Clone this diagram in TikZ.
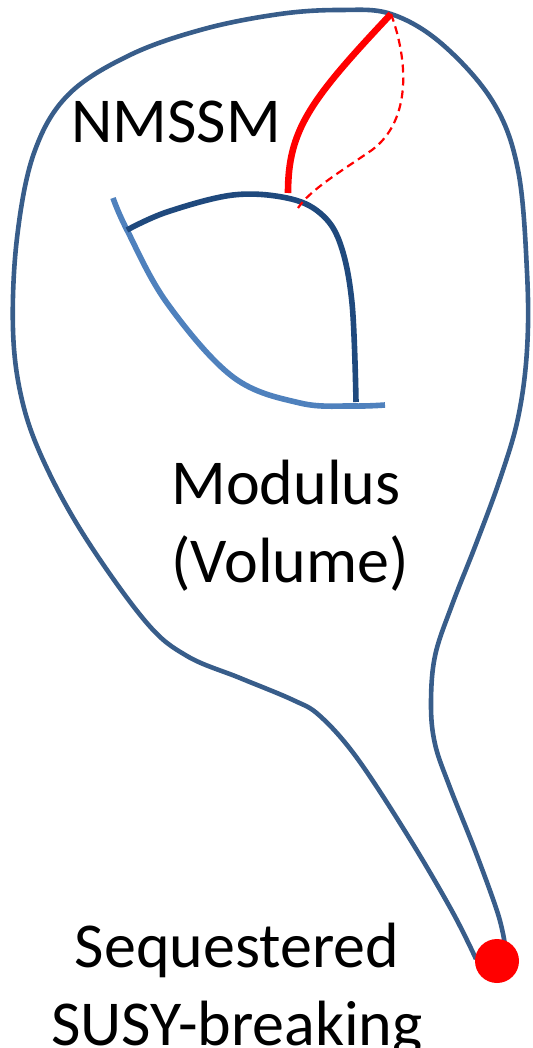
\documentclass[tikz,border=0pt]{standalone}
\usepackage{fontspec}
\setmainfont{Carlito}
\usepackage{tikz}
\usetikzlibrary{positioning}

\definecolor{loopblue}{HTML}{385D8A}
\definecolor{arcblue}{HTML}{1F497D}
\definecolor{leafblue}{HTML}{4F81BD}

\begin{document}
\begin{tikzpicture}[x=0.5pt, y=-0.5pt,
    loopline/.style={draw=loopblue, line width=2.3pt},
    arcline/.style={draw=arcblue, line width=2.8pt},
    leafline/.style={draw=leafblue, line width=2.8pt},
    redline/.style={draw=red, line width=3.3pt},
    reddash/.style={draw=red, line width=1.1pt, dash pattern=on 4pt off 2.5pt},
    bigtext/.style={inner sep=0pt, font=\fontsize{32}{39}\selectfont}]
  \useasboundingbox (0,0) rectangle (533,1048);
  % moduli space boundary
  \draw[loopline] plot[smooth, tension=0.6] coordinates {
    (476,959) (452,911) (408,836) (357,758) (320,716) (293,700) (240,678)
    (187,656) (146,622) (85,537) (44,462) (22,400) (13,330) (17,238)
    (34,153) (68,95) (130,55) (204,29) (280,14) (340,10) (391,14)
    (442,44) (493,102) (518,170) (527,272) (527,350) (518,418) (500,479)
    (476,544) (452,605) (435,656) (431,705) (435,744) (449,785) (476,853)
    (498,914) (505,945)};
  % inner wedge
  \draw[leafline] plot[smooth, tension=0.6] coordinates {
    (113,198) (127,230) (167,303) (233,377) (300,403) (353,406) (385,405)};
  \draw[arcline] plot[smooth, tension=0.6] coordinates {
    (127,230) (167,212) (233,195) (287,198) (320,213) (340,243) (352,303)
    (356,402)};
  % NMSSM branches
  \coordinate (top) at (391,14);
  \draw[redline] (288,193) .. controls (288,130) and (310,100) .. (top);
  \draw[reddash] (top) .. controls (408,60) and (412,120) .. (372,150)
    .. controls (340,172) and (310,190) .. (298,208);
  \node[circle, fill=red, minimum size=22pt, inner sep=0pt] (susy) at (497,961) {};
  % labels
  \node[bigtext, anchor=base west] (nmssm) at (71,143) {NMSSM};
  \node[bigtext, anchor=base west, align=left] (modulus) at (171,582) {Modulus\\(Volume)};
  \node[bigtext, anchor=base, align=center] (seq) at (237,1045) {Sequestered\\SUSY-breaking};
\end{tikzpicture}
\end{document}
